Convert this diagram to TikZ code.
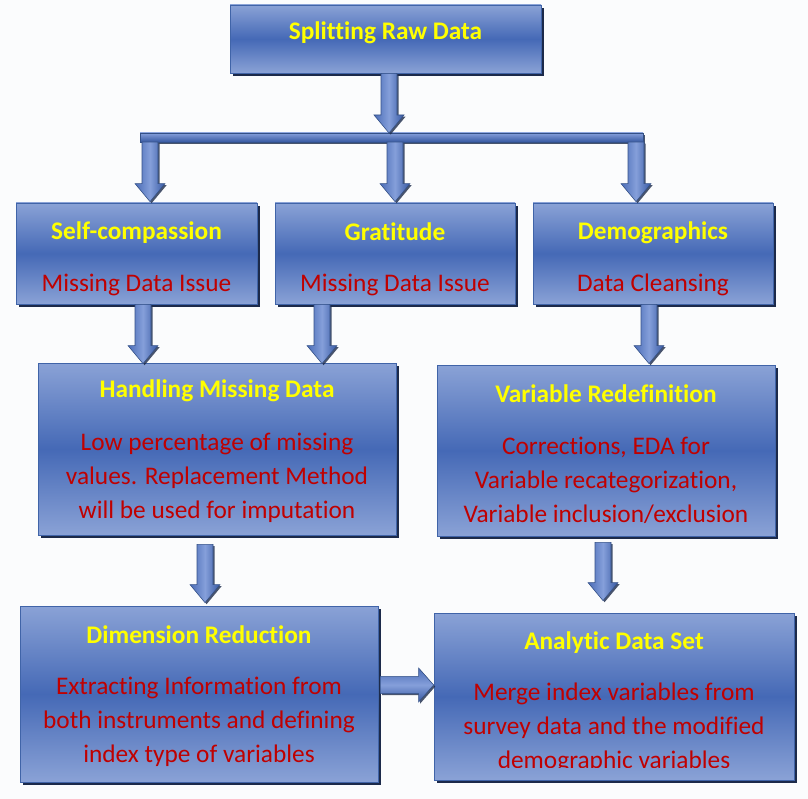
\documentclass[tikz,border=0pt]{standalone}
\usepackage{fontspec}
\setmainfont{Carlito}[Ligatures=NoCommon]
\usetikzlibrary{calc,shadows}
\definecolor{boxtop}{HTML}{8AA2D6}
\definecolor{boxmid}{HTML}{4569B6}
\definecolor{boxline}{HTML}{4064A8}
\definecolor{shadowc}{HTML}{1C2A4A}
\definecolor{titlec}{HTML}{FFFF00}
\definecolor{bodyc}{HTML}{C00000}
\definecolor{bgc}{HTML}{FBFCFD}
\definecolor{arrL}{HTML}{4A6CB6}
\definecolor{arrM}{HTML}{859FDA}
\definecolor{arrR}{HTML}{3658A2}
\tikzset{
  box/.style={draw=boxline, line width=0.6pt, top color=boxtop, bottom color=boxtop, middle color=boxmid,
    drop shadow={shadow xshift=2.2pt, shadow yshift=-2.2pt, fill=shadowc, opacity=1}, inner sep=0pt},
  sz/.style 2 args={minimum width=#1*0.75pt, minimum height=#2*0.75pt},
  title/.style={font=\fontsize{19}{23}\selectfont\bfseries, text=titlec, inner sep=0pt},
  body/.style={font=\fontsize{19}{25.5}\selectfont, text=bodyc, align=center, inner sep=0pt},
  arrowv/.style={draw=boxline!80!black, line width=0.4pt, left color=arrL, right color=arrR, middle color=arrM,
    drop shadow={shadow xshift=1.2pt, shadow yshift=-1.2pt, fill=shadowc, opacity=0.8}},
  arrowh/.style={draw=boxline!80!black, line width=0.4pt, top color=arrL, bottom color=arrR, middle color=arrM,
    drop shadow={shadow xshift=1.2pt, shadow yshift=-1.2pt, fill=shadowc, opacity=0.8}},
}
% vertical block arrow: x from #1, start y from #2, tip y from #3
\newcommand{\vblock}[3]{%
  \path[arrowv] let \p0=#1, \p1=#2, \p2=#3 in
    (\x0-6pt,\y1) -- (\x0+6pt,\y1) -- (\x0+6pt,\y2+13.5pt) -- (\x0+11.25pt,\y2+13.5pt)
    -- (\x0,\y2) -- (\x0-11.25pt,\y2+13.5pt) -- (\x0-6pt,\y2+13.5pt) -- cycle;}
% horizontal block arrow: y from #1, start x from #2, tip x from #3
\newcommand{\hblock}[3]{%
  \path[arrowh] let \p0=#1, \p1=#2, \p2=#3 in
    (\x1,\y0+6.4pt) -- (\x2-11.25pt,\y0+6.4pt) -- (\x2-11.25pt,\y0+12.75pt) -- (\x2,\y0)
    -- (\x2-11.25pt,\y0-12.75pt) -- (\x2-11.25pt,\y0-6.4pt) -- (\x1,\y0-6.4pt) -- cycle;}
\begin{document}
\begin{tikzpicture}[x=0.75pt,y=-0.75pt]
\useasboundingbox (0,0) rectangle (808,799);
\fill[bgc] (0,0) rectangle (808,799);

% boxes
\node[box, sz={311}{68}] (top) at (385.5,39) {};
\node[box, sz={241}{101}] (sc) at (136.5,253.5) {};
\node[box, sz={240}{101}] (gr) at (395,253.5) {};
\node[box, sz={240}{101}] (dm) at (653,253.5) {};
\node[box, sz={358}{172}] (hmd) at (217,449) {};
\node[box, sz={338}{171}] (vr) at (606,450.5) {};
\node[box, sz={358}{176}] (dr) at (199,694) {};
\node[box, sz={360}{167}] (ads) at (614,696.5) {};

% texts
\node[title] (topT) at ($(top.north)+(0,28)$) {Splitting Raw Data};
\node[title] (scT) at ($(sc.north)+(0,30)$) {Self-compassion};
\node[body] (scB) at ($(sc.north)+(0,82)$) {Missing Data Issue};
\node[title] (grT) at ($(gr.north)+(0,29)$) {Gratitude};
\node[body] (grB) at ($(gr.north)+(0,82)$) {Missing Data Issue};
\node[title] (dmT) at ($(dm.north)+(0,30)$) {Demographics};
\node[body] (dmB) at ($(dm.north)+(0,82)$) {Data Cleansing};
\node[title] (hmdT) at ($(hmd.north)+(0,28)$) {Handling Missing Data};
\node[body] (hmdB) at ($(hmd.north)+(0,115)$) {Low percentage of missing\\values. Replacement Method\\will be used for imputation};
\node[title] (vrT) at ($(vr.north)+(0,29)$) {Variable Redefinition};
\node[body] (vrB) at ($(vr.north)+(0,116)$) {Corrections, EDA for\\Variable recategorization,\\Variable inclusion/exclusion};
\node[title] (drT) at ($(dr.north)+(0,29)$) {Dimension Reduction};
\node[body] (drB) at ($(dr.north)+(0,116)$) {Extracting Information from\\both instruments and defining\\index type of variables};
\node[title] (adsT) at ($(ads.north)+(0,30)$) {Analytic Data Set};
\begin{scope}
\clip (ads.north west) rectangle ($(ads.south east)+(0,-13)$);
\node[body] (adsB) at ($(ads.north)+(0,115)$) {Merge index variables from\\survey data and the modified\\demographic variables};
\end{scope}

% splitting bar
\coordinate (barL) at (140,133);
\coordinate (barR) at (643,142);
\path[draw=boxline!80!black, line width=0.4pt, top color=arrM, bottom color=arrR,
  drop shadow={shadow xshift=1.2pt, shadow yshift=-1.2pt, fill=shadowc, opacity=0.8}] (barL) rectangle (barR);

% arrows
\vblock{(389,0)}{(top.south)}{(barL)}
\vblock{(150,0)}{(barR)}{($(sc.north)+(0,-1)$)}
\vblock{(395,0)}{(barR)}{($(gr.north)+(0,-1)$)}
\vblock{(636,0)}{(barR)}{($(dm.north)+(0,-1)$)}
\vblock{(143,0)}{(sc.south)}{($(hmd.north)+(0,1)$)}
\vblock{(322,0)}{(gr.south)}{($(hmd.north)+(0,1)$)}
\vblock{(649,0)}{(dm.south)}{($(vr.north)+(0,-1)$)}
\vblock{(205,0)}{($(hmd.south)+(0,9)$)}{($(dr.north)+(0,-3)$)}
\vblock{(603,0)}{($(vr.south)+(0,6)$)}{($(ads.north)+(0,-12)$)}
\hblock{(0,685)}{($(dr.east)+(2,0)$)}{(ads.west)}
\end{tikzpicture}
\end{document}
